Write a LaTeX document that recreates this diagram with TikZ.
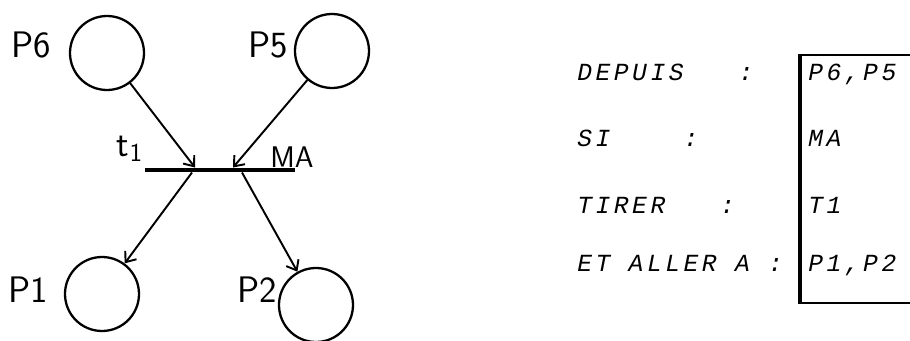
\documentclass[tikz,border=0pt]{standalone}
\usepackage{fontspec}
\usepackage{tikz}
\usetikzlibrary{positioning,arrows.meta,calc}
\newfontfamily\listfont[LetterSpace=14.4]{Liberation Mono}

\begin{document}
\begin{tikzpicture}[
  every node/.style={inner sep=0pt},
  place/.style={circle, draw, line width=1.3pt, minimum size=1.48cm},
  pl/.style={font=\sffamily\fontsize{21}{21}\selectfont},
  bar/.style={fill, minimum width=3cm, minimum height=0.09cm},
  flow/.style={line width=1.1pt, -{Straight Barb[length=5pt,width=8pt]}},
  row/.style={anchor=base west, font=\listfont\itshape\fontsize{14}{14}\selectfont},
]
\useasboundingbox (0,0) rectangle (18.2,6.8);
% reseau
\node[place] (p6) at (2.14,5.74) {};
\node[place] (p5) at (6.64,5.78) {};
\node[place] (p1) at (2.04,0.92) {};
\node[place] (p2) at (6.32,0.70) {};
\node[pl] (lp6) at (0.62,5.90) {P6};
\node[pl] (lp5) at (5.36,5.90) {P5};
\node[pl] (lp1) at (0.56,1.00) {P1};
\node[pl] (lp2) at (5.14,1.00) {P2};
\node[bar] (t1) at (4.40,3.40) {};
\node[pl] (lt1) at (2.60,3.82) {t\textsubscript{1}};
\node[pl, font=\sffamily\fontsize{17}{17}\selectfont] (ma) at (5.84,3.66) {MA};
\coordinate (in6) at (3.90,3.45);
\coordinate (in5) at (4.66,3.45);
\coordinate (out1) at (3.84,3.35);
\coordinate (out2) at (4.84,3.35);
\draw[flow] (p6) -- (in6);
\draw[flow] (p5) -- (in5);
\draw[flow] (out1) -- (p1);
\draw[flow] (out2) -- (p2);
% regle
\node[row] (depuis) at (11.54,5.20) {DEPUIS~~~:};
\node[row] (si)     at (11.54,3.88) {SI~~~~:};
\node[row] (tirer)  at (11.54,2.54) {TIRER~~~:};
\node[row] (aller)  at (11.54,1.38) {ET~ALLER~A~:};
\node[row] (vdep) at (16.16,5.20) {P6,P5};
\node[row] (vsi)  at (16.16,3.88) {MA};
\node[row] (vtir) at (16.16,2.54) {T1};
\node[row] (vall) at (16.16,1.38) {P1,P2};
\draw[line width=1pt] (18.2,5.70) -- (16.00,5.70);
\draw[line width=1pt] (16.00,0.74) -- (18.2,0.74);
\draw[line width=1.8pt] (16.00,5.72) -- (16.00,0.72);
\end{tikzpicture}
\end{document}
